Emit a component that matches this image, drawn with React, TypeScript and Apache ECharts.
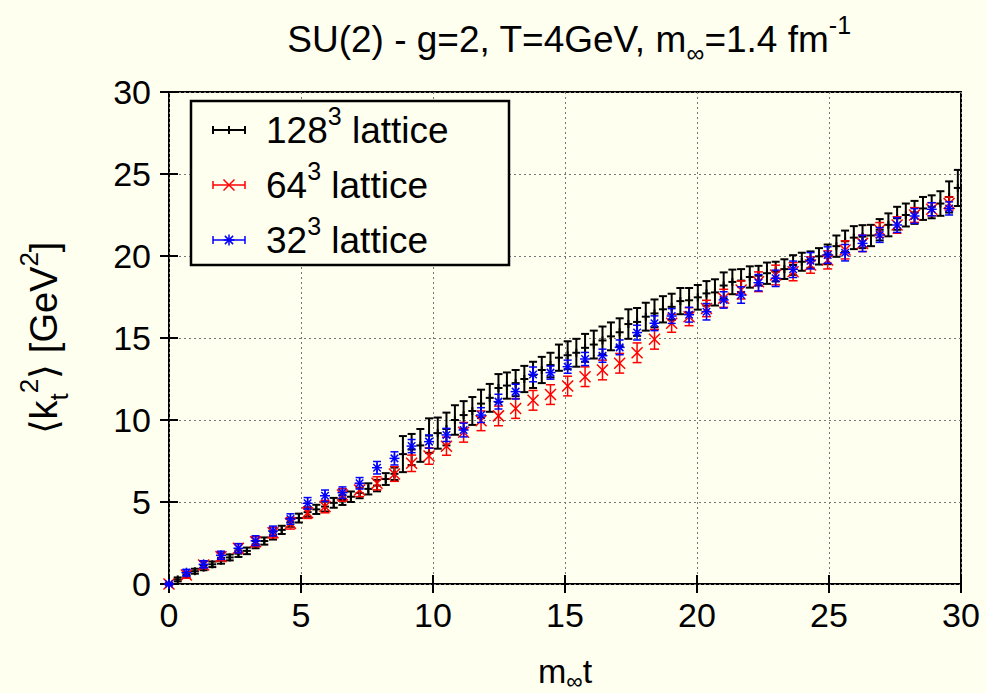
import React, { useEffect, useRef } from 'react';
import * as echarts from 'echarts';

// ---- data ----
const xBlack = [0, 0.33, 0.66, 0.98, 1.31, 1.64, 1.97, 2.3, 2.63, 2.95, 3.28, 3.61, 3.94, 4.27, 4.6, 4.92, 5.25, 5.58, 5.91, 6.24, 6.57, 6.89, 7.22, 7.55, 7.88, 8.21, 8.54, 8.86, 9.19, 9.52, 9.85, 10.18, 10.51, 10.83, 11.16, 11.49, 11.82, 12.15, 12.48, 12.8, 13.13, 13.46, 13.79, 14.12, 14.45, 14.77, 15.1, 15.43, 15.76, 16.09, 16.42, 16.74, 17.07, 17.4, 17.73, 18.06, 18.39, 18.71, 19.04, 19.37, 19.7, 20.03, 20.36, 20.68, 21.01, 21.34, 21.67, 22.0, 22.33, 22.65, 22.98, 23.31, 23.64, 23.97, 24.3, 24.62, 24.95, 25.28, 25.61, 25.94, 26.27, 26.59, 26.92, 27.25, 27.58, 27.91, 28.24, 28.56, 28.89, 29.22, 29.55, 29.88];
const yBlack = [0, 0.28, 0.55, 0.78, 1.0, 1.2, 1.42, 1.62, 1.85, 2.02, 2.4, 2.62, 2.95, 3.3, 3.75, 4.02, 4.38, 4.55, 4.72, 4.95, 5.12, 5.32, 5.55, 5.8, 6.0, 6.4, 6.72, 7.92, 8.2, 8.45, 9.05, 9.2, 9.45, 10.0, 10.3, 10.55, 11.0, 11.35, 11.95, 12.1, 12.25, 12.5, 12.75, 13.05, 13.35, 13.8, 13.95, 14.1, 14.4, 14.6, 14.85, 15.1, 15.35, 15.85, 15.98, 16.3, 16.5, 16.75, 16.9, 17.25, 17.3, 17.48, 17.72, 17.78, 18.2, 18.42, 18.5, 18.72, 18.8, 18.95, 19.05, 19.2, 19.45, 19.65, 19.78, 19.98, 20.1, 20.6, 20.9, 21.12, 21.18, 21.25, 21.6, 21.9, 22.3, 22.5, 22.66, 22.9, 23.0, 23.2, 23.6, 24.15];
const eBlack = [0.05, 0.12, 0.14, 0.15, 0.16, 0.17, 0.18, 0.18, 0.2, 0.2, 0.22, 0.22, 0.24, 0.25, 0.26, 0.27, 0.28, 0.28, 0.3, 0.3, 0.3, 0.32, 0.32, 0.34, 0.35, 0.36, 0.38, 1.1, 0.95, 1.0, 1.05, 0.95, 1.0, 0.9, 0.85, 0.85, 0.85, 0.85, 0.85, 0.8, 0.8, 0.8, 0.8, 0.8, 0.75, 0.8, 0.85, 0.85, 0.85, 0.85, 0.85, 0.85, 0.85, 0.9, 0.85, 0.85, 0.85, 0.8, 0.8, 0.8, 0.75, 0.75, 0.75, 0.8, 0.8, 0.75, 0.7, 0.65, 0.6, 0.65, 0.6, 0.6, 0.6, 0.55, 0.5, 0.5, 0.6, 0.65, 0.65, 0.7, 0.7, 0.65, 0.65, 0.7, 0.7, 0.7, 0.7, 0.7, 0.7, 0.75, 0.95, 1.1];

const xSmall = [0, 0.66, 1.31, 1.97, 2.63, 3.28, 3.94, 4.6, 5.25, 5.91, 6.57, 7.22, 7.88, 8.54, 9.19, 9.85, 10.51, 11.16, 11.82, 12.48, 13.13, 13.79, 14.45, 15.1, 15.76, 16.42, 17.07, 17.73, 18.39, 19.04, 19.7, 20.36, 21.01, 21.67, 22.33, 22.98, 23.64, 24.3, 24.95, 25.61, 26.27, 26.92, 27.58, 28.24, 28.89, 29.55];
const yRed = [0, 0.55, 1.16, 1.67, 2.18, 2.58, 3.13, 3.7, 4.35, 4.72, 5.43, 5.73, 6.14, 6.71, 7.36, 7.8, 8.4, 9.25, 9.95, 10.25, 10.7, 11.2, 11.55, 12.07, 12.64, 13.05, 13.46, 14.1, 14.92, 15.9, 16.3, 16.8, 17.42, 17.93, 18.43, 18.84, 19.04, 19.45, 19.76, 20.37, 20.77, 21.59, 21.89, 22.5, 22.85, 23.2];
const eRed = [0.05, 0.2, 0.22, 0.25, 0.28, 0.3, 0.32, 0.35, 0.35, 0.38, 0.38, 0.4, 0.4, 0.45, 0.5, 0.5, 0.55, 0.6, 0.6, 0.6, 0.6, 0.6, 0.6, 0.6, 0.6, 0.6, 0.6, 0.6, 0.6, 0.55, 0.55, 0.5, 0.55, 0.55, 0.6, 0.6, 0.55, 0.5, 0.55, 0.55, 0.5, 0.45, 0.5, 0.45, 0.4, 0.4];
const yBlue = [0, 0.69, 1.2, 1.75, 2.18, 2.64, 3.23, 3.96, 4.92, 5.38, 5.57, 6.14, 7.09, 7.66, 8.41, 8.68, 9.09, 9.39, 10.3, 11.12, 11.73, 12.78, 12.89, 13.25, 13.72, 13.92, 14.43, 15.33, 15.9, 16.34, 16.42, 16.6, 17.32, 17.62, 18.37, 18.64, 19.19, 19.71, 20.06, 20.2, 20.77, 21.28, 21.89, 22.44, 22.85, 22.9];
const eBlue = [0.05, 0.2, 0.22, 0.25, 0.28, 0.3, 0.3, 0.32, 0.35, 0.35, 0.35, 0.35, 0.38, 0.4, 0.4, 0.4, 0.4, 0.42, 0.45, 0.45, 0.45, 0.45, 0.4, 0.4, 0.4, 0.4, 0.45, 0.45, 0.45, 0.45, 0.45, 0.5, 0.5, 0.5, 0.5, 0.5, 0.5, 0.5, 0.5, 0.5, 0.5, 0.45, 0.45, 0.45, 0.4, 0.4];

const legendLabels = ['128', '64', '32'];

const FONT = '"Liberation Sans", Arial, Helvetica, sans-serif';
const BG = '#fffff0';

function markerShapes(kind: string, cx: number, cy: number, s: number, style: any) {
  const out: any[] = [];
  if (kind === 'plus' || kind === 'star') {
    out.push({ type: 'line', shape: { x1: cx - s, y1: cy, x2: cx + s, y2: cy }, style });
    out.push({ type: 'line', shape: { x1: cx, y1: cy - s, x2: cx, y2: cy + s }, style });
  }
  if (kind === 'cross' || kind === 'star') {
    const d = kind === 'star' ? s * 0.75 : s;
    out.push({ type: 'line', shape: { x1: cx - d, y1: cy - d, x2: cx + d, y2: cy + d }, style });
    out.push({ type: 'line', shape: { x1: cx - d, y1: cy + d, x2: cx + d, y2: cy - d }, style });
  }
  return out;
}

function makeSeries(name: string, xs: number[], ys: number[], es: number[], kind: string, color: string, lw: number, cap: number, ms: number, z: number) {
  const data = xs.map((x, i) => [x, ys[i], es[i]]);
  return {
    type: 'custom',
    name,
    data,
    z,
    encode: { x: 0, y: 1 },
    renderItem: (params: any, api: any) => {
      const x = api.value(0);
      const y = api.value(1);
      const e = api.value(2);
      const p = api.coord([x, y]);
      const t = api.coord([x, y + e]);
      const b = api.coord([x, y - e]);
      const st = { stroke: color, lineWidth: lw, fill: 'none' };
      const children: any[] = [
        { type: 'line', shape: { x1: p[0], y1: t[1], x2: p[0], y2: b[1] }, style: st },
        { type: 'line', shape: { x1: p[0] - cap, y1: t[1], x2: p[0] + cap, y2: t[1] }, style: st },
        { type: 'line', shape: { x1: p[0] - cap, y1: b[1], x2: p[0] + cap, y2: b[1] }, style: st },
        ...markerShapes(kind, p[0], p[1], ms, st),
      ];
      return { type: 'group', children };
    },
  };
}

// rich styles: main line height controls how far sup/sub move
const richBase = (size: number, lineH: number) => {
  const s = Math.round(size * 0.68);
  return {
    n: { fontSize: size, fontFamily: FONT, color: '#000', lineHeight: lineH },
    sup: { fontSize: s, fontFamily: FONT, color: '#000', verticalAlign: 'top', lineHeight: s },
    sub: { fontSize: s, fontFamily: FONT, color: '#000', verticalAlign: 'bottom', lineHeight: s },
  };
};

export default function App() {
  const ref = useRef<HTMLDivElement>(null);
  useEffect(() => {
    if (!ref.current) return;
    const chart = echarts.init(ref.current, null, { renderer: 'svg' });
    const FS = 34;
    const FL = 37;
    const legendSpecs = [
      { kind: 'plus', color: '#000', lw: 2 },
      { kind: 'cross', color: '#ff0000', lw: 1.5 },
      { kind: 'star', color: '#0000ff', lw: 1.5 },
    ];
    const rowY = [130, 185, 240];
    const legendEls: any[] = [
      { type: 'rect', shape: { x: 191, y: 101, width: 318, height: 164 }, style: { fill: BG, stroke: '#000', lineWidth: 2.5 }, z: 100 },
    ];
    legendSpecs.forEach((s, i) => {
      const cy = rowY[i];
      const st = { stroke: s.color, lineWidth: s.lw };
      legendEls.push({ type: 'line', shape: { x1: 213, y1: cy, x2: 245, y2: cy }, style: st, z: 101 });
      legendEls.push({ type: 'line', shape: { x1: 213, y1: cy - 4, x2: 213, y2: cy + 4 }, style: st, z: 101 });
      legendEls.push({ type: 'line', shape: { x1: 245, y1: cy - 4, x2: 245, y2: cy + 4 }, style: st, z: 101 });
      markerShapes(s.kind, 229, cy, s.kind === 'plus' ? 4 : 5.5, st).forEach((m) => legendEls.push({ ...m, z: 101 }));
      legendEls.push({
        type: 'text', x: 266, y: cy, z: 101,
        style: { text: `{n|${legendLabels[i]}}{sup|3}{n| lattice}`, rich: richBase(FL, FL + 16), align: 'left', verticalAlign: 'middle' },
      });
    });

    const option: any = {
      animation: false,
      backgroundColor: BG,
      grid: { left: 169, right: 25, top: 92, bottom: 109, show: true, borderColor: '#000', borderWidth: 2, backgroundColor: 'transparent' },
      xAxis: [
        {
          type: 'value', min: 0, max: 30, interval: 5, position: 'bottom',
          axisLine: { show: false },
          axisTick: { show: true, inside: true, length: 9, lineStyle: { color: '#000', width: 2 } },
          axisLabel: { fontSize: FS, fontFamily: FONT, color: '#000', margin: 14 },
          splitLine: { show: true, lineStyle: { color: '#777', type: [2, 3], width: 1 } },
        },
        {
          type: 'value', min: 0, max: 30, interval: 5, position: 'top',
          axisLine: { show: false },
          axisTick: { show: true, inside: true, length: 9, lineStyle: { color: '#000', width: 2 } },
          axisLabel: { show: false },
          splitLine: { show: false },
        },
      ],
      yAxis: [
        {
          type: 'value', min: 0, max: 30, interval: 5, position: 'left',
          axisLine: { show: false },
          axisTick: { show: true, inside: true, length: 9, lineStyle: { color: '#000', width: 2 } },
          axisLabel: { fontSize: FS, fontFamily: FONT, color: '#000', margin: 18 },
          splitLine: { show: true, lineStyle: { color: '#777', type: [2, 3], width: 1 } },
        },
        {
          type: 'value', min: 0, max: 30, interval: 5, position: 'right',
          axisLine: { show: false },
          axisTick: { show: true, inside: true, length: 9, lineStyle: { color: '#000', width: 2 } },
          axisLabel: { show: false },
          splitLine: { show: false },
        },
      ],
      series: [
        makeSeries('128^3 lattice', xBlack, yBlack, eBlack, 'plus', '#000000', 2, 4, 4, 2),
        makeSeries('64^3 lattice', xSmall, yRed, eRed, 'cross', '#ff0000', 1.5, 4.5, 5.5, 3),
        makeSeries('32^3 lattice', xSmall, yBlue, eBlue, 'star', '#0000ff', 1.5, 4, 5, 4),
      ],
      graphic: {
        elements: [
          {
            type: 'text', x: 569, y: 39, z: 50,
            style: { text: '{n|SU(2) - g=2, T=4GeV, m}{sub|∞}{n|=1.4 fm}{sup|-1}', rich: richBase(FL, FL + 16), align: 'center', verticalAlign: 'middle' },
          },
          {
            type: 'text', x: 565, y: 671, z: 50,
            style: { text: '{n|m}{sub|∞}{n|t}', rich: richBase(FS, FS + 8), align: 'center', verticalAlign: 'middle' },
          },
          {
            type: 'text', x: 44, y: 338, rotation: Math.PI / 2, z: 50,
            style: { text: '{n|⟨k}{sub|t}{sup|2}{n|⟩ [GeV}{sup|2}{n|]}', rich: richBase(38, 38 + 18), align: 'center', verticalAlign: 'middle' },
          },
          ...legendEls,
        ],
      },
    };
    chart.setOption(option);
    return () => chart.dispose();
  }, []);
  return (
    <div
      ref={ref}
      style={{ position: 'absolute', left: 0, top: 0, width: 986, height: 693, background: BG }}
    />
  );
}
